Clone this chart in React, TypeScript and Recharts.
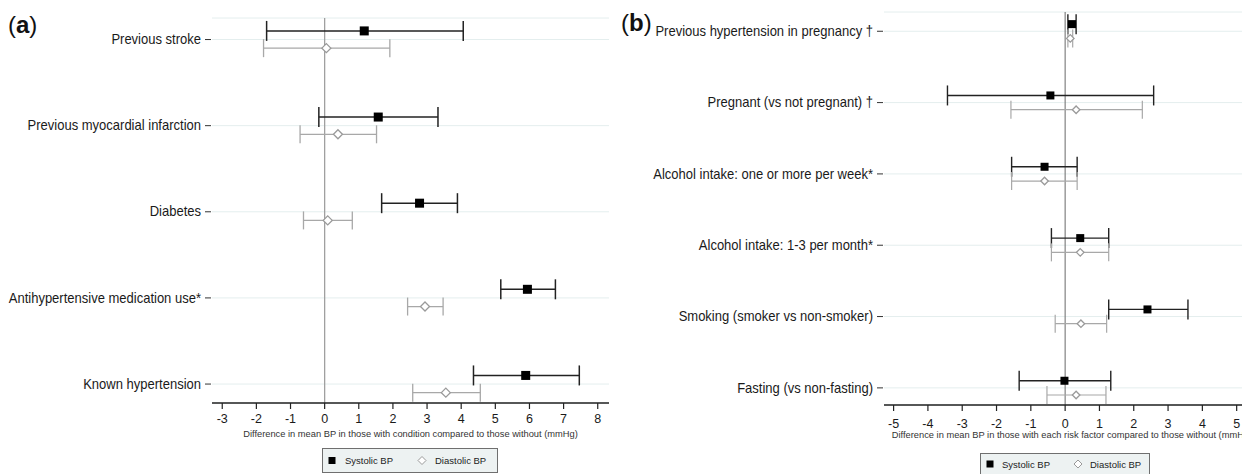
import React from 'react';
import { ScatterChart, Scatter, XAxis, YAxis, CartesianGrid, ReferenceLine, ErrorBar, Legend, Label } from 'recharts';

// ---------- Panel (a) ----------
const categoriesA = [
  'Previous stroke',
  'Previous myocardial infarction',
  'Diabetes',
  'Antihypertensive medication use*',
  'Known hypertension',
];
const systolicA = [1.16, 1.57, 2.78, 5.94, 5.89];
const systolicALow = [-1.70, -0.17, 1.67, 5.16, 4.36];
const systolicAHigh = [4.06, 3.32, 3.89, 6.76, 7.46];
const diastolicA = [0.05, 0.39, 0.09, 2.94, 3.55];
const diastolicALow = [-1.79, -0.72, -0.62, 2.43, 2.58];
const diastolicAHigh = [1.91, 1.52, 0.81, 3.47, 4.56];
const ticksA = [-3, -2, -1, 0, 1, 2, 3, 4, 5, 6, 7, 8];
const titleA = 'Difference in mean BP in those with condition compared to those without (mmHg)';

// ---------- Panel (b) ----------
const categoriesB = [
  'Previous hypertension in pregnancy \u2020',
  'Pregnant (vs not pregnant) \u2020',
  'Alcohol intake: one or more per week*',
  'Alcohol intake: 1-3 per month*',
  'Smoking (smoker vs non-smoker)',
  'Fasting (vs non-fasting)',
];
const systolicB = [0.2, -0.43, -0.6, 0.44, 2.4, -0.02];
const systolicBLow = [0.08, -3.43, -1.56, -0.4, 1.27, -1.34];
const systolicBHigh = [0.32, 2.58, 0.35, 1.27, 3.58, 1.33];
const diastolicB = [0.15, 0.32, -0.6, 0.44, 0.46, 0.32];
const diastolicBLow = [0.08, -1.58, -1.56, -0.4, -0.29, -0.53];
const diastolicBHigh = [0.22, 2.25, 0.35, 1.27, 1.21, 1.19];
const ticksB = [-5, -4, -3, -2, -1, 0, 1, 2, 3, 4, 5];
const titleB = 'Difference in mean BP in those with each risk factor compared to those without (mmHg)';

const seriesNames = ['Systolic BP', 'Diastolic BP'];

const LFONT = '"Liberation Sans", Arial, sans-serif';

function buildRows(vals: number[], lo: number[], hi: number[], shift: number) {
  return vals.map((v, i) => ({ x: v, y: i + shift, err: [v - lo[i], hi[i] - v] }));
}

const squareShape = (size: number) => (props: any) => {
  const { cx, cy } = props;
  return <rect x={cx - size / 2} y={cy - size / 2} width={size} height={size} fill="#000" />;
};
const diamondShape = (size: number) => (props: any) => {
  const { cx, cy } = props;
  const h = size / 2;
  return (
    <polygon
      points={`${cx},${cy - h} ${cx + h},${cy} ${cx},${cy + h} ${cx - h},${cy}`}
      fill="#fff"
      stroke="#9a9a9a"
      strokeWidth={1.3}
    />
  );
};

const makeYTick = (labels: string[], textGap: number, dashFrom: number, dashTo: number) => (props: any) => {
  const { x, y, payload } = props;
  return (
    <g>
      <text
        transform={`translate(${x - textGap},${y}) scale(0.93,1)`}
        x={0}
        y={0}
        textAnchor="end"
        dominantBaseline="central"
        fontSize={14}
        fontFamily={LFONT}
        fill="#1a1a1a"
      >
        {labels[payload.value]}
      </text>
      <line x1={x - dashFrom} x2={x - dashTo} y1={y} y2={y} stroke="#333" strokeWidth={1} />
    </g>
  );
};

const makeLegend = (sqX: number, txt1: number, diaX: number, txt2: number, w: number, h: number) => () => (
  <div
    style={{
      position: 'relative',
      width: w,
      height: h,
      boxSizing: 'border-box',
      background: '#edf2f2',
      border: '1px solid #6f6f6f',
    }}
  >
    <svg width={w} height={h} style={{ position: 'absolute', left: -1, top: -1 }}>
      <rect x={sqX - 3.5} y={h / 2 - 3.5} width={7} height={7} fill="#000" />
      <polygon
        points={`${diaX},${h / 2 - 4} ${diaX + 4},${h / 2} ${diaX},${h / 2 + 4} ${diaX - 4},${h / 2}`}
        fill="#fff"
        stroke="#9a9a9a"
        strokeWidth={1}
      />
      <text x={txt1} y={h / 2} dominantBaseline="central" fontSize={9.5} fontFamily={LFONT} fill="#222">
        {seriesNames[0]}
      </text>
      <text x={txt2} y={h / 2} dominantBaseline="central" fontSize={9.5} fontFamily={LFONT} fill="#222">
        {seriesNames[1]}
      </text>
    </svg>
  </div>
);

export default function App() {
  const sysA = buildRows(systolicA, systolicALow, systolicAHigh, -0.1);
  const diaA = buildRows(diastolicA, diastolicALow, diastolicAHigh, 0.1);
  const sysB = buildRows(systolicB, systolicBLow, systolicBHigh, -0.1);
  const diaB = buildRows(diastolicB, diastolicBLow, diastolicBHigh, 0.1);

  const tickStyle = { fontSize: 12.5, fontFamily: LFONT, fill: '#1a1a1a' };
  const titleStyle = { fontSize: 9.3, fontFamily: LFONT, fill: '#333' };

  return (
    <div style={{ position: 'relative', width: 1242, height: 474, overflow: 'hidden', background: '#fff' }}>
      <style>{`body{margin:0;}`}</style>

      <div style={{ position: 'absolute', left: 0, top: 0 }}>
        <ScatterChart width={620} height={474} margin={{ top: 18, right: 11, bottom: 31, left: 0 }}>
          <CartesianGrid horizontal vertical={false} stroke="#e4eeee" strokeWidth={1} />
          <XAxis
            type="number"
            dataKey="x"
            domain={[-3.3, 8.33]}
            ticks={ticksA}
            allowDataOverflow
            height={40}
            tickSize={6}
            tickMargin={5}
            stroke="#222"
            axisLine={{ stroke: '#222', strokeWidth: 1.6 }}
            tickLine={{ stroke: '#222', strokeWidth: 1.2 }}
            tick={tickStyle}
          >
            <Label value={titleA} position="insideTop" offset={27} style={titleStyle} />
          </XAxis>
          <YAxis
            type="number"
            dataKey="y"
            domain={[-0.25, 4.22]}
            ticks={[0, 1, 2, 3, 4]}
            reversed
            allowDataOverflow
            width={212}
            axisLine={false}
            tickLine={false}
            tickSize={0}
            tickMargin={0}
            tick={makeYTick(categoriesA, 11, 7, 1)}
            interval={0}
          />
          <ReferenceLine x={0} stroke="#a0a0a0" strokeWidth={1.3} />
          <Scatter name={seriesNames[0]} data={sysA} shape={squareShape(9)} isAnimationActive={false}>
            <ErrorBar dataKey="err" direction="x" width={10} stroke="#222" strokeWidth={1.5} />
          </Scatter>
          <Scatter name={seriesNames[1]} data={diaA} shape={diamondShape(9)} isAnimationActive={false}>
            <ErrorBar dataKey="err" direction="x" width={9} stroke="#a8a8a8" strokeWidth={1.3} />
          </Scatter>
          <Legend
            layout="horizontal"
            verticalAlign="middle"
            align="center"
            wrapperStyle={{ left: 322, top: 448, width: 176, height: 25 }}
            content={makeLegend(10, 23, 100, 113, 176, 25)}
          />
        </ScatterChart>
      </div>

      <div style={{ position: 'absolute', left: 620, top: 0 }}>
        <ScatterChart width={640} height={474} margin={{ top: 12, right: 0, bottom: 29, left: 0 }}>
          <CartesianGrid horizontal vertical={false} stroke="#e4eeee" strokeWidth={1} />
          <XAxis
            type="number"
            dataKey="x"
            domain={[-5.28, 5.68]}
            ticks={ticksB}
            allowDataOverflow
            height={40}
            tickSize={6}
            tickMargin={8}
            stroke="#222"
            axisLine={{ stroke: '#222', strokeWidth: 1.6 }}
            tickLine={{ stroke: '#222', strokeWidth: 1.2 }}
            tick={tickStyle}
          >
            <Label value={titleB} position="insideTop" offset={26} style={titleStyle} />
          </XAxis>
          <YAxis
            type="number"
            dataKey="y"
            domain={[-0.27, 5.24]}
            ticks={[0, 1, 2, 3, 4, 5]}
            reversed
            allowDataOverflow
            width={264}
            axisLine={false}
            tickLine={false}
            tickSize={0}
            tickMargin={0}
            tick={makeYTick(categoriesB, 11, 7, 1)}
            interval={0}
          />
          <ReferenceLine x={0} stroke="#777" strokeWidth={1.1} />
          <Scatter name={seriesNames[0]} data={sysB} shape={squareShape(8)} isAnimationActive={false}>
            <ErrorBar dataKey="err" direction="x" width={10} stroke="#222" strokeWidth={1.4} />
          </Scatter>
          <Scatter name={seriesNames[1]} data={diaB} shape={diamondShape(7.5)} isAnimationActive={false}>
            <ErrorBar dataKey="err" direction="x" width={9} stroke="#a8a8a8" strokeWidth={1.2} />
          </Scatter>
          <Legend
            layout="horizontal"
            verticalAlign="middle"
            align="center"
            wrapperStyle={{ left: 360, top: 453, width: 170, height: 22 }}
            content={makeLegend(10, 22, 98, 110, 170, 22)}
          />
        </ScatterChart>
      </div>

      <div style={{ position: 'absolute', left: 8, top: 11, fontFamily: LFONT, fontSize: 24, color: '#111', lineHeight: '28px' }}>
        (<b>a</b>)
      </div>
      <div style={{ position: 'absolute', left: 621, top: 9, fontFamily: LFONT, fontSize: 24, color: '#111', lineHeight: '28px' }}>
        (<b>b</b>)
      </div>
    </div>
  );
}
